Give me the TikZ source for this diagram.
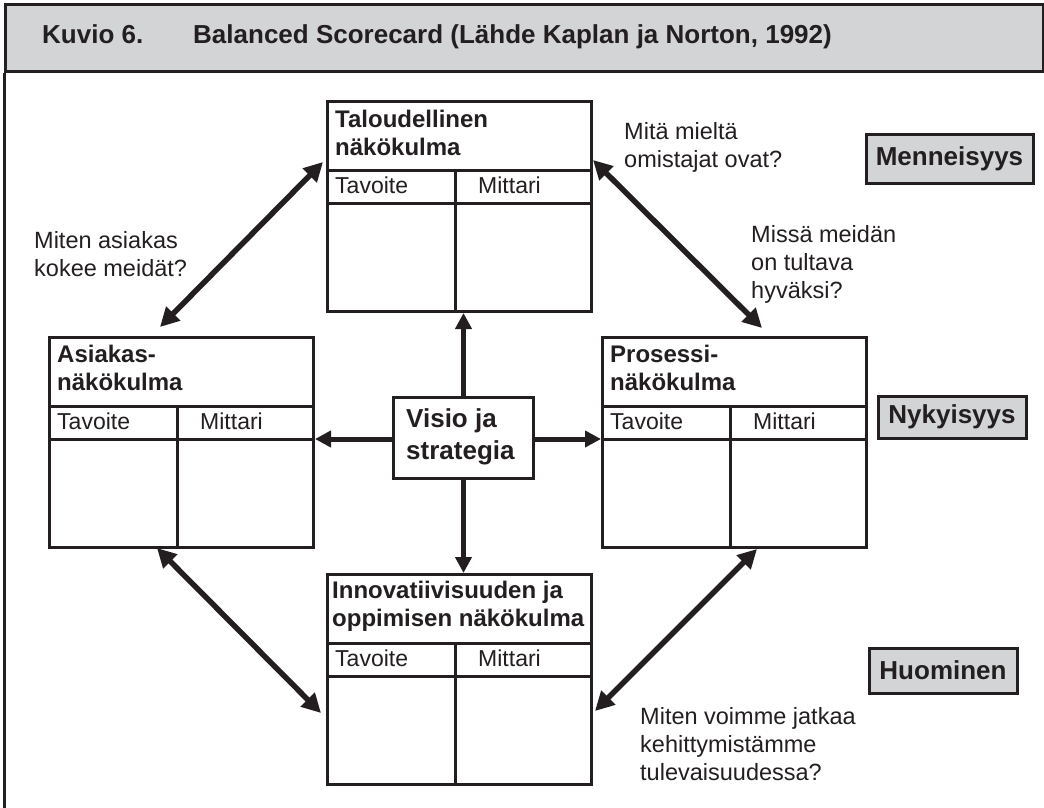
\documentclass[tikz,border=0pt]{standalone}
\usepackage{fontspec}
\setmainfont{Liberation Sans}
\usetikzlibrary{arrows.meta}
\definecolor{ink}{HTML}{231F20}
\definecolor{panel}{HTML}{D3D4D6}
\begin{document}
\begin{tikzpicture}[x=1pt,y=-1pt,
  frame/.style={draw=ink,line width=3pt},
  card/.style={draw=ink,line width=3pt,minimum width=264pt,minimum height=210pt,anchor=north west,inner sep=0pt},
  rule/.style={draw=ink,line width=3pt},
  ttl/.style={anchor=base west,inner sep=0pt,text=ink,font=\fontsize{24}{28}\selectfont\bfseries},
  cell/.style={anchor=base west,inner sep=0pt,text=ink,font=\fontsize{23}{28}\selectfont},
  ask/.style={anchor=base west,inner sep=0pt,text=ink,font=\fontsize{23.5}{28}\selectfont,align=left},
  era/.style={draw=ink,fill=panel,line width=3pt,inner sep=0pt,text=ink,font=\fontsize{26}{30}\selectfont\bfseries},
  link/.style={draw=ink,line width=5pt},
  dlink/.style={draw=ink,line width=5.5pt,>={Triangle[length=19pt,width=19pt]}},
  >={Triangle[length=16pt,width=16pt]}
]
\useasboundingbox (0,0) rectangle (1044,808);
\fill[white] (0,0) rectangle (1044,808);

% title band and left rule
\node[frame,fill=panel,minimum width=1038pt,minimum height=67pt,anchor=north west,inner sep=0pt] (head) at (4,3) {};
\coordinate (foot) at (4,808);
\draw[frame] (head.south west) -- (foot);
\node[anchor=base west,inner sep=0pt,text=ink,font=\fontsize{26}{30}\selectfont\bfseries] (kuvio) at (42,44) {Kuvio 6.};
\node[anchor=base west,inner sep=0pt,text=ink,font=\fontsize{26}{30}\selectfont\bfseries] (otsikko) at (193,44) {Balanced Scorecard (Lähde Kaplan ja Norton, 1992)};

% the four scorecard panels
\node[card] (tal) at (326,100) {};
\node[card] (asi) at (48,336) {};
\node[card] (pro) at (601,336) {};
\node[card] (inn) at (326,573) {};

\foreach \c in {tal,asi,pro,inn}{
  \draw[rule] ([yshift=-70pt]\c.north west) -- ([yshift=-70pt]\c.north east);
  \draw[rule] ([yshift=-103pt]\c.north west) -- ([yshift=-103pt]\c.north east);
  \draw[rule] ([xshift=129pt,yshift=-70pt]\c.north west) -- ([xshift=129pt]\c.south west);
  \node[cell] (\c-tav) at ([xshift=9pt,yshift=-93.5pt]\c.north west) {Tavoite};
  \node[cell] (\c-mit) at ([xshift=152pt,yshift=-93.5pt]\c.north west) {Mittari};
}

\node[ttl] (tal-t1) at ([xshift=9pt,yshift=-27pt]tal.north west) {Taloudellinen};
\node[ttl] (tal-t2) at ([xshift=9pt,yshift=-55pt]tal.north west) {näkökulma};
\node[ttl] (asi-t1) at ([xshift=9pt,yshift=-26pt]asi.north west) {Asiakas-};
\node[ttl] (asi-t2) at ([xshift=9pt,yshift=-54pt]asi.north west) {näkökulma};
\node[ttl] (pro-t1) at ([xshift=9pt,yshift=-26pt]pro.north west) {Prosessi-};
\node[ttl] (pro-t2) at ([xshift=9pt,yshift=-54pt]pro.north west) {näkökulma};
\node[ttl] (inn-t1) at ([xshift=6pt,yshift=-25pt]inn.north west) {Innovatiivisuuden ja};
\node[ttl] (inn-t2) at ([xshift=6pt,yshift=-53pt]inn.north west) {oppimisen näkökulma};

% centre
\node[draw=ink,line width=3pt,minimum width=140pt,minimum height=81pt,anchor=north west,inner sep=0pt] (vis) at (392,396) {};
\node[anchor=base west,inner sep=0pt,text=ink,font=\fontsize{26}{30}\selectfont\bfseries] (vis-1) at (406,427) {Visio ja};
\node[anchor=base west,inner sep=0pt,text=ink,font=\fontsize{26}{30}\selectfont\bfseries] (vis-2) at (406,459) {strategia};

\draw[link,->] (vis.north) -- (tal.south -| vis.north);
\draw[link,->] (vis.south) -- (inn.north -| vis.south);
\draw[link,->] ([yshift=-1pt]vis.west) -- ([yshift=-1pt]vis.west -| asi.east);
\draw[link,->] ([yshift=-1pt]vis.east) -- ([yshift=-1pt]vis.east -| pro.west);

% diagonal links
\coordinate (tl-a) at (160,327);
\coordinate (tl-b) at (323,162);
\coordinate (tr-a) at (593,160);
\coordinate (tr-b) at (762,328);
\coordinate (bl-a) at (157,548);
\coordinate (bl-b) at (321,713);
\coordinate (br-a) at (757,549);
\coordinate (br-b) at (595,711);
\draw[dlink,<->] (tl-a) -- (tl-b);
\draw[dlink,<->] (tr-a) -- (tr-b);
\draw[dlink,<->] (bl-a) -- (bl-b);
\draw[dlink,<->] (br-a) -- (br-b);

% questions (node base sits on the last line)
\node[ask] (q-omist) at (624,167) {Mitä mieltä\\omistajat ovat?};
\node[ask] (q-asiak) at (34,276) {Miten asiakas\\kokee meidät?};
\node[ask] (q-proses) at (751,298) {Missä meidän\\on tultava\\hyväksi?};
\node[ask] (q-tulev) at (640,780) {Miten voimme jatkaa\\kehittymistämme\\tulevaisuudessa?};

% time labels
\node[era,minimum width=167pt,minimum height=49pt] (menn) at (949.5,158.5) {Menneisyys};
\node[era,minimum width=148pt,minimum height=42pt] (nyky) at (952,417) {Nykyisyys};
\node[era,minimum width=148pt,minimum height=45pt] (huom) at (943,670.5) {Huominen};
\end{tikzpicture}
\end{document}
